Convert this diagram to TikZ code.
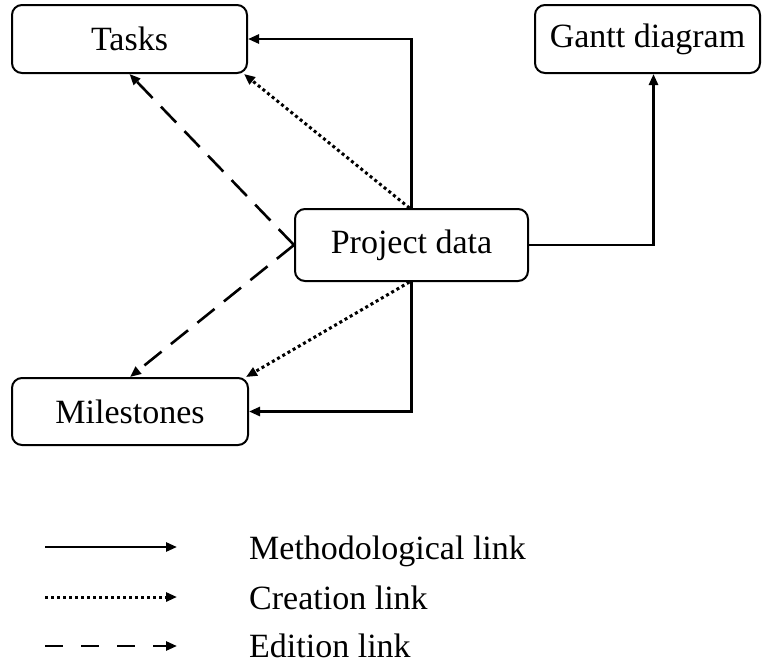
\documentclass[tikz,border=0pt]{standalone}
\usepackage{fontspec}
\setmainfont{Liberation Serif}
\usetikzlibrary{arrows.meta}
\begin{document}
\begin{tikzpicture}[x=1pt,y=-1pt,
  box/.style={draw,line width=2pt,rounded corners=10pt,inner sep=0pt,font=\fontsize{34}{40}\selectfont},
  link/.style={line width=2.6pt,-{Triangle[length=11pt,width=9pt]}},
  meth/.style={link},
  creat/.style={link,line width=3pt,dash pattern=on 3pt off 3pt},
  edit/.style={link,dash pattern=on 22pt off 12pt},
  legtext/.style={anchor=base west,inner sep=0pt,font=\fontsize{34}{40}\selectfont}]
\useasboundingbox (0,0) rectangle (762,664);
\node[box,minimum width=235pt,minimum height=68pt] (tasks) at (129.5,39) {Tasks};
\node[box,minimum width=225pt,minimum height=68pt] (gantt) at (647.5,39) {Gantt diagram};
\node[box,minimum width=233pt,minimum height=72pt] (proj) at (411.5,245) {Project data};
\node[box,minimum width=236pt,minimum height=67pt] (miles) at (130,411.5) {Milestones};
\draw[meth] (proj.north) |- (tasks.east);
\draw[meth] (proj.east) -| ([xshift=6pt]gantt.south);
\draw[meth] (proj.south) |- (miles.east);
\draw[creat] ([xshift=-2pt]proj.north) -- ([xshift=-4pt]tasks.south east);
\draw[creat] ([xshift=-2pt]proj.south) -- ([xshift=-3pt]miles.north east);
\draw[edit] (proj.west) -- (tasks.south);
\draw[edit] (proj.west) -- (miles.north);
\coordinate (l1a) at (45,547); \coordinate (l1b) at (177,547);
\coordinate (l2a) at (45,597); \coordinate (l2b) at (177,597);
\coordinate (l3a) at (45,646); \coordinate (l3b) at (177,646);
\draw[meth] (l1a) -- (l1b);
\draw[creat] (l2a) -- (l2b);
\draw[edit,dash pattern=on 18pt off 18pt] (l3a) -- (l3b);
\node[legtext] (t1) at (249,559) {Methodological link};
\node[legtext] (t2) at (249,609) {Creation link};
\node[legtext] (t3) at (249,657) {Edition link};
\end{tikzpicture}
\end{document}
